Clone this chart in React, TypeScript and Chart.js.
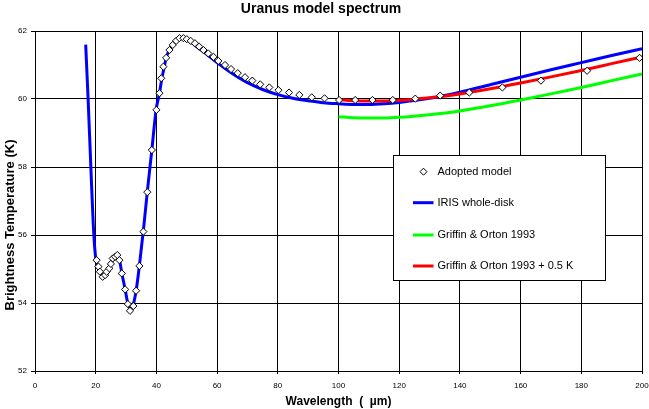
import React, { useEffect, useRef } from "react";
import { Chart, registerables } from "chart.js";

Chart.register(...registerables);

// ---- Data ----
const adoptedX = [
  20.3, 20.9, 21.4, 22.3, 23.1, 23.6, 24.5, 25.0, 25.6, 26.4, 27.1, 27.8, 28.6, 29.7,
  30.6, 31.3, 32.4, 33.3, 34.4, 35.7, 37.0, 38.5, 40.0, 41.0, 41.6, 42.3, 43.2, 44.3,
  45.4, 46.5, 47.6, 48.9, 50.0, 51.3, 52.7, 54.1, 55.5, 57.1, 58.8, 60.4, 62.6, 64.6,
  66.8, 69.2, 71.6, 74.2, 77.2, 80.2, 83.7, 87.1, 91.2, 95.4, 100.2, 105.5, 111.2,
  117.9, 125.3, 133.5, 143.1, 154.0, 166.7, 181.9, 199.2,
];
const adoptedY = [
  55.26, 55.07, 54.92, 54.77, 54.82, 54.92, 55.02, 55.15, 55.31, 55.36, 55.41, 55.26,
  54.87, 54.4, 53.97, 53.77, 53.91, 54.36, 55.09, 56.1, 57.26, 58.5, 59.68, 60.17,
  60.61, 60.95, 61.21, 61.44, 61.59, 61.71, 61.79, 61.79, 61.76, 61.71, 61.64, 61.54,
  61.44, 61.34, 61.24, 61.12, 61.0, 60.88, 60.76, 60.64, 60.54, 60.43, 60.34, 60.26,
  60.19, 60.12, 60.05, 60.02, 59.97, 59.97, 59.97, 59.97, 60.01, 60.1, 60.19, 60.34,
  60.54, 60.83, 61.21,
];

const irisX = [
  16.7, 17.5, 18.4, 19.2, 19.9, 20.6, 21.4, 22.3, 23.1, 24.0, 25.0, 26.0, 26.9, 27.8,
  28.6, 29.7, 30.6, 31.3, 32.2, 33.3, 34.4, 35.9, 37.0, 38.5, 39.9, 41.0, 41.8, 42.6,
  43.4, 44.4, 45.5, 46.6, 47.7, 49.0, 50.2, 51.5, 53.0, 56.4, 60, 65, 70, 75, 80, 85,
  90, 95, 100, 105, 110, 115, 120, 130, 140, 150, 160, 170, 180, 190, 200,
];
const irisY = [
  61.6, 60.0, 58.0, 56.3, 55.4, 55.1, 54.92, 54.78, 54.82, 54.97, 55.15, 55.33, 55.4,
  55.28, 54.88, 54.4, 53.98, 53.82, 53.9, 54.35, 55.1, 56.3, 57.27, 58.5, 59.68, 60.17,
  60.6, 60.95, 61.26, 61.45, 61.6, 61.71, 61.77, 61.78, 61.74, 61.67, 61.56, 61.33,
  61.07, 60.75, 60.48, 60.28, 60.13, 60.02, 59.95, 59.89, 59.86, 59.84, 59.84, 59.86,
  59.9, 60.02, 60.2, 60.42, 60.64, 60.86, 61.07, 61.28, 61.48,
];

const griffinX = [100, 105, 110, 115, 120, 130, 140, 150, 160, 170, 180, 190, 200];
const griffinY = [59.48, 59.45, 59.44, 59.44, 59.46, 59.54, 59.65, 59.8, 59.97, 60.15, 60.34, 60.54, 60.74];
const griffinPlusY = [59.98, 59.95, 59.94, 59.94, 59.96, 60.04, 60.15, 60.3, 60.47, 60.65, 60.84, 61.04, 61.24];

const legendLabels = [
  "Adopted model",
  "IRIS whole-disk",
  "Griffin & Orton 1993",
  "Griffin & Orton 1993 + 0.5 K",
];
const chartTitle = "Uranus model spectrum";
const xTitle = "Wavelength  (  µm)";
const yTitle = "Brightness Temperature (K)";

const FONT = "'Liberation Sans', Arial, Helvetica, sans-serif";

const toXY = (xs: number[], ys: number[]) => xs.map((x, i) => ({ x, y: ys[i] }));

export default function App() {
  const ref = useRef<HTMLCanvasElement>(null);

  useEffect(() => {
    document.body.style.margin = "0";
    const canvas = ref.current!;

    const overlay = {
      id: "overlay",
      afterDraw(chart: any) {
        const c = chart.ctx as CanvasRenderingContext2D;
        c.save();
        // y axis title
        c.translate(10.5, 225);
        c.rotate(-Math.PI / 2);
        c.font = `bold 13px ${FONT}`;
        c.fillStyle = "#000";
        c.textAlign = "center";
        c.textBaseline = "middle";
        c.fillText(yTitle, 0, 0);
        c.restore();

        // legend box
        c.save();
        c.fillStyle = "#fff";
        c.fillRect(393.5, 155.5, 212, 125);
        c.strokeStyle = "#000";
        c.lineWidth = 1;
        c.strokeRect(393.5, 155.5, 212, 125);
        const rows = [171.7, 202.7, 235, 266];
        const colors = ["", "#0000ff", "#00ff00", "#ff0000"];
        c.font = `11px ${FONT}`;
        c.textAlign = "left";
        c.textBaseline = "middle";
        rows.forEach((yy, i) => {
          if (i === 0) {
            const cx = 423.5, r = 3.5;
            c.beginPath();
            c.moveTo(cx, yy - r);
            c.lineTo(cx + r, yy);
            c.lineTo(cx, yy + r);
            c.lineTo(cx - r, yy);
            c.closePath();
            c.fillStyle = "#fff";
            c.fill();
            c.strokeStyle = "#000";
            c.lineWidth = 1;
            c.stroke();
          } else {
            c.beginPath();
            c.moveTo(413, yy);
            c.lineTo(433.5, yy);
            c.strokeStyle = colors[i];
            c.lineWidth = 3;
            c.stroke();
          }
          c.fillStyle = "#000";
          c.fillText(legendLabels[i], 437.5, yy);
        });
        c.restore();
      },
    };

    const chart = new Chart(canvas, {
      type: "line",
      data: {
        datasets: [
          {
            label: legendLabels[0],
            data: toXY(adoptedX, adoptedY),
            showLine: false,
            pointStyle: "rectRot",
            pointRadius: 3.6,
            pointBackgroundColor: "#ffffff",
            pointBorderColor: "#000000",
            pointBorderWidth: 1,
            order: 0,
          },
          {
            label: legendLabels[3],
            data: toXY(griffinX, griffinPlusY),
            borderColor: "#ff0000",
            borderWidth: 3,
            pointRadius: 0,
            cubicInterpolationMode: "monotone",
            order: 1,
          },
          {
            label: legendLabels[1],
            data: toXY(irisX, irisY),
            borderColor: "#0000ff",
            borderWidth: 3,
            pointRadius: 0,
            cubicInterpolationMode: "monotone",
            order: 2,
          },
          {
            label: legendLabels[2],
            data: toXY(griffinX, griffinY),
            borderColor: "#00ff00",
            borderWidth: 3,
            pointRadius: 0,
            cubicInterpolationMode: "monotone",
            order: 3,
          },
        ],
      },
      options: {
        responsive: false,
        animation: false,
        devicePixelRatio: 1,
        layout: { padding: { left: 0, right: 7, top: 0, bottom: 0 } },
        plugins: {
          legend: { display: false },
          tooltip: { enabled: false },
          title: {
            display: true,
            text: chartTitle,
            color: "#000",
            font: { family: FONT, size: 14, weight: "bold" },
            padding: { top: 1, bottom: 13.2 },
          },
        },
        scales: {
          x: {
            type: "linear",
            min: 0,
            max: 200,
            ticks: {
              stepSize: 20,
              color: "#000",
              font: { family: FONT, size: 8 },
              padding: 7,
              maxRotation: 0,
              autoSkip: false,
            },
            grid: { color: "#000", lineWidth: 1, tickLength: 3, drawTicks: true },
            border: { display: true, color: "#000", width: 1 },
            title: {
              display: true,
              text: xTitle,
              color: "#000",
              font: { family: FONT, size: 12, weight: "bold" },
              padding: { top: 0, bottom: 0 },
            },
            afterFit: (s: any) => {
              s.height = 38;
              s.paddingLeft = 0;
              s.paddingRight = 0;
            },
          },
          y: {
            type: "linear",
            min: 52,
            max: 62,
            ticks: {
              stepSize: 2,
              color: "#000",
              font: { family: FONT, size: 8 },
              padding: 4,
            },
            grid: { color: "#000", lineWidth: 1, tickLength: 4, drawTicks: true },
            border: { display: true, color: "#000", width: 1 },
            afterFit: (s: any) => {
              s.width = 35;
              s.paddingTop = 0;
              s.paddingBottom = 0;
            },
          },
        },
      },
      plugins: [overlay],
    } as any);

    return () => chart.destroy();
  }, []);

  return (
    <div style={{ position: "absolute", left: 0, top: 0, width: 649, height: 409, background: "#fff" }}>
      <canvas ref={ref} width={649} height={409} style={{ display: "block" }} />
    </div>
  );
}
